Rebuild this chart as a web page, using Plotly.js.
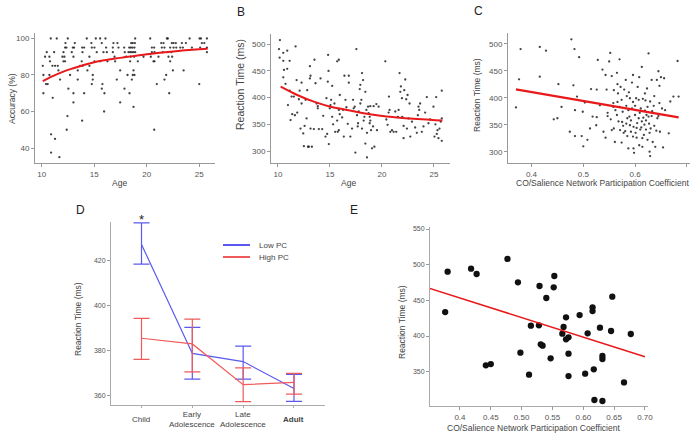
<!DOCTYPE html>
<html>
<head>
<meta charset="utf-8">
<script src="https://cdn.plot.ly/plotly-3.0.1.min.js"></script>
<style>
  html, body { margin: 0; padding: 0; background: #fff; }
  #chart { width: 692px; height: 435px; }
</style>
</head>
<body>
<div id="chart"></div>
<script>
// ---- Panel A: accuracy by age ----
const accAge = [
  10.86,11.43,12.48,14.29,15.15,15.56,16.07,18.90,20.33,21.92,22.01,24.08,25.03,25.16,25.73,
  12.26,13.15,14.73,15.72,16.83,17.21,18.52,18.67,18.87,21.38,21.60,22.39,22.55,22.77,23.35,23.73,25.25,25.48,
  12.22,12.35,12.96,13.08,13.85,14.04,14.77,15.02,16.13,16.77,17.31,17.85,18.33,18.48,18.64,18.83,20.49,20.71,21.44,21.69,22.23,22.55,22.81,23.19,23.44,24.30,25.09,25.73,
  10.48,11.18,12.07,12.86,13.88,15.24,15.88,16.20,16.77,17.91,18.26,18.42,18.58,18.74,18.90,20.49,20.74,21.53,22.01,22.33,25.73,
  10.32,10.73,11.97,12.16,13.02,14.54,16.93,18.04,18.48,18.80,19.69,20.39,21.12,22.07,22.42,
  10.79,12.07,12.22,13.81,15.02,15.56,16.26,16.99,18.42,19.15,20.64,20.74,22.23,
  10.10,11.02,11.27,11.53,13.65,13.91,14.54,
  11.59,13.43,14.35,17.47,18.74,22.49,23.51,
  10.16,10.73,12.70,14.86,18.17,18.67,18.83,21.85,
  11.75,13.43,14.86,17.15,18.58,21.69,
  10.41,10.57,14.77,15.78,20.96,25.00,
  12.54,15.72,17.88,
  10.16,13.02,14.04,15.97,18.36,22.14,
  11.05,13.02,17.47,18.74,15.94,12.45,13.85,12.38,20.71,10.89,11.27,10.89,11.68
];
const accPct = [
  100,100,100,100,100,100,100,100,100,100,100,100,100,100,100,
  97.5,97.5,97.5,97.5,97.5,97.5,97.5,97.5,97.5,97.5,97.5,97.5,97.5,97.5,97.5,97.5,97.5,97.5,
  95,95,95,95,95,95,95,95,95,95,95,95,95,95,95,95,95,95,95,95,95,95,95,95,95,95,95,95,
  92.5,92.5,92.5,92.5,92.5,92.5,92.5,92.5,92.5,92.5,92.5,92.5,92.5,92.5,92.5,92.5,92.5,92.5,92.5,92.5,92.5,
  90,90,90,90,90,90,90,90,90,90,90,90,90,90,90,
  87.5,87.5,87.5,87.5,87.5,87.5,87.5,87.5,87.5,87.5,87.5,87.5,87.5,
  85,85,85,85,85,85,85,
  82.5,82.5,82.5,82.5,82.5,82.5,82.5,
  80,80,80,80,80,80,80,80,
  77.5,77.5,77.5,77.5,77.5,77.5,
  75,75,75,75,75,75,
  72.5,72.5,72.5,
  70,70,70,70,70,70,
  67.5,65,65,62.5,60,57.5,55,50,50,47.5,45,37.5,35
];
const accFitAge = [10.1,11,12,13,14,15,16,17,18,19,20,21,22,23,24,25,25.8];
const accFitPct = [76.6,79.2,81.7,83.7,85.5,87.0,88.1,89.0,89.8,90.6,91.4,92.0,92.6,93.2,93.7,94.1,94.4];

// ---- Panel B: reaction time by age ----
const rtAge = [
  10.19,10.10,10.16,10.51,10.51,10.89,11.12,10.89,10.58,10.51,
  10.73,10.96,11.12,11.21,11.31,11.37,11.53,11.63,11.69,11.79,
  11.85,12.01,12.08,12.17,12.27,12.27,12.43,12.49,12.56,12.65,
  12.75,12.81,12.88,12.97,13.07,13.07,13.13,13.13,13.26,13.45,
  13.51,13.61,13.71,13.83,13.83,13.93,14.09,14.25,14.35,14.57,
  14.66,14.73,14.79,14.82,14.86,14.89,14.98,15.05,15.11,15.21,
  15.21,15.30,15.43,15.50,15.69,15.69,15.75,15.85,15.85,15.85,
  15.94,15.94,16.17,16.26,16.33,16.39,16.49,16.58,16.71,16.81,
  16.81,16.96,17.12,17.22,17.28,17.38,17.44,17.54,17.60,17.67,
  17.70,17.76,17.86,17.92,17.92,18.02,18.08,18.08,18.18,18.24,
  18.31,18.40,18.40,18.50,18.56,18.56,18.66,18.72,18.82,18.82,
  18.88,18.88,18.95,19.04,19.14,19.20,19.27,19.46,19.52,19.68,
  20.32,20.42,20.54,20.64,20.67,20.73,20.80,20.96,21.12,21.28,
  21.37,21.53,21.60,21.69,21.76,21.82,21.92,21.95,22.08,22.08,
  22.14,22.24,22.33,22.40,22.46,22.56,22.65,22.72,22.88,23.19,
  23.35,23.45,23.51,23.58,23.67,23.83,23.99,24.15,24.31,24.47,
  24.63,24.95,25.05,25.14,25.21,25.27,25.34,25.43,25.53,25.65,
  25.75,25.75,25.75
];
const rtMs = [
  508,491,475,484,469,488,469,454,452,438,
  426,386,413,358,402,369,402,367,496,433,
  372,397,413,342,389,428,333,309,347,396,
  361,414,308,308,436,459,441,342,308,341,
  471,427,389,384,380,341,436,341,366,327,
  399,332,430,480,450,313,380,386,396,422,
  364,350,389,336,468,357,336,471,377,339,
  369,405,363,377,327,441,396,382,351,428,
  441,327,342,396,380,383,297,491,367,346,
  352,374,416,389,424,396,446,342,433,357,
  364,314,411,377,288,334,383,371,364,352,
  384,357,339,305,346,384,308,388,339,383,
  468,359,349,372,402,377,336,339,336,374,
  336,364,377,446,411,421,399,364,347,324,
  414,434,397,342,405,361,389,327,355,344,
  334,367,383,377,389,336,346,372,401,352,
  359,383,327,350,401,332,339,324,342,355,
  361,413,319
];
const rtFitAge = [10.26,11.85,13.45,15.05,16.65,18.24,19.84,21.44,23.04,24.63,25.81];
const rtFitMs = [420.6,405.0,392.5,383.0,377.0,370.6,366.0,363.0,360.6,358.8,357.0];

// ---- Panel C: reaction time by CO/Salience participation coefficient ----
const pcC = [
  0.370,0.379,0.376,0.416,0.428,0.416,0.452,0.443,0.450,0.458,
  0.477,0.483,0.481,0.484,0.474,0.484,0.492,0.488,0.497,0.499,
  0.500,0.503,0.508,0.515,0.518,0.513,0.526,0.528,0.525,0.526,
  0.532,0.537,0.539,0.543,0.543,0.545,0.547,0.547,0.550,0.552,
  0.555,0.555,0.558,0.558,0.559,0.559,0.561,0.562,0.565,0.565,
  0.566,0.567,0.568,0.570,0.570,0.571,0.572,0.574,0.574,0.576,
  0.577,0.579,0.581,0.582,0.583,0.584,0.585,0.585,0.587,0.587,
  0.589,0.590,0.590,0.592,0.594,0.594,0.596,0.596,0.597,0.597,
  0.598,0.600,0.600,0.602,0.603,0.603,0.605,0.607,0.607,0.608,
  0.608,0.610,0.611,0.613,0.613,0.614,0.615,0.616,0.617,0.619,
  0.619,0.621,0.621,0.623,0.624,0.624,0.626,0.626,0.628,0.628,
  0.629,0.629,0.630,0.632,0.632,0.634,0.636,0.637,0.639,0.641,
  0.642,0.643,0.645,0.647,0.647,0.648,0.650,0.652,0.654,0.656,
  0.658,0.665,0.668,0.674,0.682,0.684,
  0.575,0.583,0.592,0.604,0.609,0.612,0.618,0.622,0.627,0.633,
  0.596,0.588,0.566,0.553,0.578,0.601,0.614,0.637,0.645,0.620
];
const rtC = [
  382,490,434,494,487,439,425,360,362,383,
  508,490,423,377,337,329,475,402,329,374,
  310,391,322,416,365,343,415,470,349,364,
  386,452,337,442,326,415,372,366,467,483,
  440,340,390,383,414,343,318,377,446,368,
  425,408,356,471,383,340,420,396,317,374,
  348,415,338,433,385,403,362,329,377,306,
  365,399,349,337,428,380,328,442,306,346,
  298,368,385,399,344,326,420,362,396,312,
  438,341,380,457,356,309,398,363,331,408,
  376,358,341,417,383,322,482,365,335,300,
  393,292,343,433,366,318,385,403,309,339,
  433,362,449,422,390,337,438,380,308,436,
  377,334,393,402,468,402,
  355,352,358,353,372,345,350,368,352,375,
  392,410,392,360,335,335,325,348,366,395
];
const cFitPc = [0.370, 0.684];
const cFitMs = [415.4, 363.6];

// ---- Panel D: reaction time by age group, low vs high participation ----
const groups = ['Child', 'Early Adolescence', 'Late Adolescence', 'Adult'];
const groupLabels = ['Child', 'Early<br>Adolescence', 'Late<br>Adolescence', '<b>Adult</b>'];
const seriesNames = ['Low PC', 'High PC'];
const lowPcMean = [427.0, 378.8, 375.2, 363.3];
const lowPcUp   = [9.5, 11.5, 6.8, 6.2];
const lowPcDown = [8.7, 11.4, 7.8, 5.7];
const highPcMean = [385.5, 383.0, 365.0, 366.0];
const highPcUp   = [8.8, 11.0, 7.4, 4.0];
const highPcDown = [9.3, 12.4, 7.5, 5.2];

// ---- Panel E: group-level reaction time by participation coefficient ----
const pcE = [0.376,0.380,0.418,0.427,0.442,0.450,0.477,0.494,0.498,0.512,
             0.515,0.529,0.528,0.531,0.534,0.540,0.547,0.553,0.552,0.568,
             0.566,0.572,0.576,0.572,0.576,0.576,0.594,0.603,0.607,0.615,
             0.615,0.617,0.618,0.627,0.631,0.631,0.631,0.645,0.647,0.666,0.677];
const rtE = [433.6,490.2,494.4,486.9,358.9,360.7,508.0,475.2,376.6,345.8,
             414.5,470.1,415.0,388.3,386.4,453.3,368.7,484.1,468.2,412.6,
             403.3,395.3,398.1,426.2,375.2,343.9,429.4,347.2,403.7,440.2,
             435.0,353.3,310.3,411.7,372.0,367.8,308.9,407.0,455.1,335.0,402.8];
const eFitPc = [0.35, 0.70];
const eFitMs = [467.0, 371.0];
const eTickVals = [0.4, 0.45, 0.5, 0.55, 0.6, 0.65, 0.7];
const eTickText = ['0.4', '0.45', '0.50', '0.55', '0.60', '0.65', '0.70'];

// ---- styling ----
const FONT = 'Liberation Sans, Arial, sans-serif';
const FIT_RED = '#e8191a';
const BLUE = 'rgb(90,90,240)';
const RED = 'rgb(240,90,90)';
const LABEL = 'rgb(68,68,68)';
const W = 692, H = 435;
const px = v => v / W;          // horizontal pixel -> paper
const py = v => 1 - v / H;      // vertical pixel -> paper

function axis(extra) {
  return Object.assign({
    showline: true, linecolor: '#999', linewidth: 1,
    ticks: 'outside', ticklen: 3, tickcolor: '#999', tickwidth: 1,
    showgrid: false, zeroline: false,
    tickfont: {family: FONT, size: 8, color: '#555'},
    fixedrange: true
  }, extra);
}

const dots = {size: 2.3, color: 'rgba(20,20,20,0.8)'};

const traces = [
  {x: accAge, y: accPct, xaxis: 'x', yaxis: 'y', type: 'scatter', mode: 'markers',
   marker: dots, showlegend: false},
  {x: accFitAge, y: accFitPct, xaxis: 'x', yaxis: 'y', type: 'scatter', mode: 'lines',
   line: {color: FIT_RED, width: 2, shape: 'spline'}, showlegend: false},

  {x: rtAge, y: rtMs, xaxis: 'x2', yaxis: 'y2', type: 'scatter', mode: 'markers',
   marker: dots, showlegend: false},
  {x: rtFitAge, y: rtFitMs, xaxis: 'x2', yaxis: 'y2', type: 'scatter', mode: 'lines',
   line: {color: FIT_RED, width: 2, shape: 'spline'}, showlegend: false},

  {x: pcC, y: rtC, xaxis: 'x3', yaxis: 'y3', type: 'scatter', mode: 'markers',
   marker: dots, showlegend: false},
  {x: cFitPc, y: cFitMs, xaxis: 'x3', yaxis: 'y3', type: 'scatter', mode: 'lines',
   line: {color: FIT_RED, width: 2.2}, showlegend: false},

  {x: groups, y: lowPcMean, xaxis: 'x4', yaxis: 'y4', type: 'scatter', mode: 'lines',
   name: seriesNames[0], showlegend: false, line: {color: BLUE, width: 1.2},
   error_y: {type: 'data', symmetric: false, array: lowPcUp, arrayminus: lowPcDown,
             color: BLUE, thickness: 1.2, width: 8}},
  {x: groups, y: highPcMean, xaxis: 'x4', yaxis: 'y4', type: 'scatter', mode: 'lines',
   name: seriesNames[1], showlegend: false, line: {color: RED, width: 1.2},
   error_y: {type: 'data', symmetric: false, array: highPcUp, arrayminus: highPcDown,
             color: RED, thickness: 1.2, width: 8}},

  {x: pcE, y: rtE, xaxis: 'x5', yaxis: 'y5', type: 'scatter', mode: 'markers',
   marker: {size: 6.3, color: '#111'}, showlegend: false},
  {x: eFitPc, y: eFitMs, xaxis: 'x5', yaxis: 'y5', type: 'scatter', mode: 'lines',
   line: {color: FIT_RED, width: 1.5}, showlegend: false}
];

const ann = (text, x, y, opts) => Object.assign({
  text: text, x: x, y: y, xref: 'paper', yref: 'paper', showarrow: false,
  xanchor: 'center', yanchor: 'middle',
  font: {family: FONT, size: 8.5, color: LABEL}
}, opts || {});

const letterFont = {family: FONT, size: 12, color: '#222'};
const smallFont = {family: FONT, size: 8, color: LABEL};

// panel D category axis: domain and range, used to place its two-line labels
const dDomain = [px(111), px(325)];
const dRange = [-0.6, 3.61];
const dCatX = i => dDomain[0] + (i - dRange[0]) / (dRange[1] - dRange[0]) * (dDomain[1] - dDomain[0]);

const annotations = [
  // panel letters
  ann('B', px(241), py(12), {font: letterFont}),
  ann('C', px(478), py(11), {font: letterFont}),
  ann('D', px(80), py(210), {font: letterFont}),
  ann('E', px(354), py(210), {font: letterFont}),
  // axis titles
  ann('Age', px(119), py(183)),
  ann('Accuracy (%)', px(12), py(98), {textangle: -90}),
  ann('Age', px(348), py(183)),
  ann('Reaction Time (ms)', px(240), py(85), {textangle: -90, font: {family: FONT, size: 10.5, color: LABEL}}),
  ann('CO/Salience Network Participation Coefficient', px(602), py(183)),
  ann('Reaction Time (ms)', px(477), py(95), {textangle: -90}),
  ann('Reaction Time (ms)', px(78), py(319), {textangle: -90}),
  ann('Reaction Time (ms)', px(402), py(322), {textangle: -90}),
  ann('CO/Salience Network Participation Coefficient', px(533), py(428)),
  // significance marker above the child group
  ann('*', dCatX(0), py(219), {font: {family: FONT, size: 13, color: '#222'}}),
  // legend entries for panel D
  ann(seriesNames[0], px(257), py(245), {xanchor: 'left', font: smallFont}),
  ann(seriesNames[1], px(257), py(257), {xanchor: 'left', font: smallFont})
];
// category labels under panel D, vertically centred like two-line labels
groupLabels.forEach((t, i) => {
  annotations.push(ann(t, dCatX(i), py(419), {font: smallFont}));
});

const shapes = [
  {type: 'line', xref: 'paper', yref: 'paper', x0: px(223), x1: px(250), y0: py(245), y1: py(245),
   line: {color: BLUE, width: 2}},
  {type: 'line', xref: 'paper', yref: 'paper', x0: px(223), x1: px(250), y0: py(257), y1: py(257),
   line: {color: RED, width: 2}}
];

const layout = {
  width: W, height: H,
  margin: {l: 0, r: 0, t: 0, b: 0},
  paper_bgcolor: '#fff', plot_bgcolor: '#fff',
  font: {family: FONT, color: LABEL},
  showlegend: false,

  xaxis:  axis({domain: [px(35), px(215)], range: [9.36, 26.5], tickvals: [10, 15, 20, 25], anchor: 'y'}),
  yaxis:  axis({domain: [py(163), py(33)], range: [31.8, 103], tickvals: [40, 60, 80, 100], anchor: 'x'}),

  xaxis2: axis({domain: [px(271), px(450)], range: [9.33, 26.54], tickvals: [10, 15, 20, 25], anchor: 'y2'}),
  yaxis2: axis({domain: [py(163), py(34)], range: [277.5, 519.3], tickvals: [300, 350, 400, 450, 500], anchor: 'x2'}),

  xaxis3: axis({domain: [px(508), px(690)], range: [0.3547, 0.706], tickvals: [0.4, 0.5, 0.6, 0.7],
                ticktext: ['0.4', '0.5', '0.6', '0.7'], anchor: 'y3'}),
  yaxis3: axis({domain: [py(163), py(33)], range: [279.1, 519.8], tickvals: [300, 350, 400, 450, 500], anchor: 'x3'}),

  xaxis4: axis({domain: dDomain, type: 'category', range: dRange,
                showticklabels: false, ticklen: 2, linecolor: '#aaa', tickcolor: '#aaa', anchor: 'y4'}),
  yaxis4: axis({domain: [py(405), py(222)], range: [356, 436.9], tickvals: [360, 380, 400, 420],
                linecolor: '#aaa', tickfont: {family: FONT, size: 7, color: '#555'}, anchor: 'x4'}),

  xaxis5: axis({domain: [px(430), px(648)], range: [0.3514, 0.7049], tickvals: eTickVals,
                ticktext: eTickText, linecolor: '#aaa', anchor: 'y5'}),
  yaxis5: axis({domain: [py(406), py(227)], range: [301.9, 552.8], tickvals: [350, 400, 450, 500, 550],
                linecolor: '#aaa', tickfont: {family: FONT, size: 7, color: '#555'}, anchor: 'x5'}),

  annotations: annotations,
  shapes: shapes
};

Plotly.newPlot('chart', traces, layout, {displayModeBar: false, staticPlot: true});
</script>
</body>
</html>
